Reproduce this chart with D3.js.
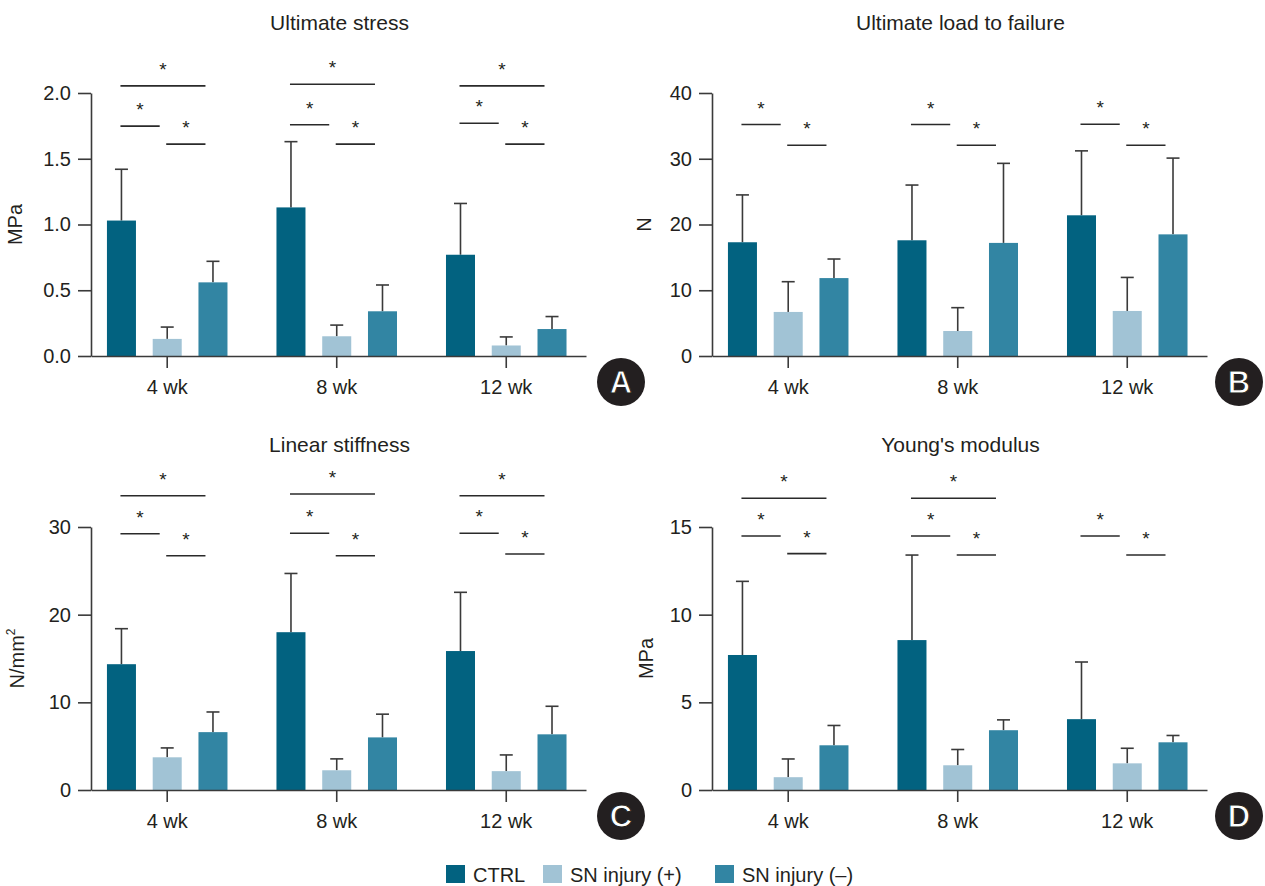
<!DOCTYPE html>
<html>
<head>
<meta charset="utf-8">
<script src="https://cdn.jsdelivr.net/npm/d3@7"></script>
<style>
  body { margin: 0; background: #fff; }
  svg text { font-family: "Liberation Sans", Arial, sans-serif; fill: #231f20; }
</style>
</head>
<body>
<div id="chart"></div>
<script>
// groups on the x axis and the three series
const groups = ["4 wk", "8 wk", "12 wk"];
const series = ["CTRL", "SN injury (+)", "SN injury (–)"];
const colors = ["#026280", "#a1c3d5", "#3285a3"];

// Ultimate stress (MPa) - mean and SD, rows = groups, cols = series
const stressMean = [[1.03, 0.13, 0.56], [1.13, 0.15, 0.34], [0.77, 0.08, 0.205]];
const stressSD   = [[0.39, 0.09, 0.16], [0.50, 0.085, 0.20], [0.39, 0.065, 0.095]];
const stressTicks = [0, 0.5, 1.0, 1.5, 2.0];
// brackets: [group, from series, to series, height]
const stressSig = [[0,0,2,2.054],[0,0,1,1.748],[0,1,2,1.611],
                   [1,0,2,2.067],[1,0,1,1.758],[1,1,2,1.611],
                   [2,0,2,2.054],[2,0,1,1.77],[2,1,2,1.611]];

// Ultimate load to failure (N)
const loadMean = [[17.3, 6.7, 11.85], [17.6, 3.8, 17.2], [21.4, 6.85, 18.5]];
const loadSD   = [[7.2, 4.6, 2.9], [8.4, 3.55, 12.1], [9.8, 5.1, 11.6]];
const loadTicks = [0, 10, 20, 30, 40];
const loadSig = [[0,0,1,35.2],[0,1,2,32.05],[1,0,1,35.2],[1,1,2,32.05],[2,0,1,35.24],[2,1,2,32.05]];

// Linear stiffness (N/mm2)
const stiffMean = [[14.35, 3.73, 6.6], [18.0, 2.25, 6.0], [15.85, 2.15, 6.35]];
const stiffSD   = [[4.05, 1.07, 2.3], [6.7, 1.3, 2.65], [6.7, 1.85, 3.2]];
const stiffTicks = [0, 10, 20, 30];
const stiffSig = [[0,0,2,33.57],[0,0,1,29.23],[0,1,2,26.72],
                  [1,0,2,33.77],[1,0,1,29.28],[1,1,2,26.72],
                  [2,0,2,33.57],[2,0,1,29.28],[2,1,2,26.92]];

// Young's modulus (MPa)
const youngMean = [[7.7, 0.73, 2.55], [8.55, 1.41, 3.41], [4.04, 1.52, 2.72]];
const youngSD   = [[4.2, 1.04, 1.13], [4.85, 0.9, 0.59], [3.26, 0.86, 0.39]];
const youngTicks = [0, 5, 10, 15];
const youngSig = [[0,0,2,16.64],[0,0,1,14.49],[0,1,2,13.48],
                  [1,0,2,16.64],[1,0,1,14.49],[1,1,2,13.40],
                  [2,0,1,14.49],[2,1,2,13.40]];

const svg = d3.select("#chart").append("svg")
    .attr("width", 1265)
    .attr("height", 886);

const plotW = 495, plotH = 263;
const ink = "#3a3a3a";

function drawPanel(p) {
  const g = svg.append("g").attr("transform", "translate(" + p.left + "," + p.top + ")");

  const x0 = d3.scaleBand().domain(groups).range([0, plotW])
      .paddingInner(0.289).paddingOuter(0.1045).align(0.45);
  const x1 = d3.scaleBand().domain([0, 1, 2]).range([0, x0.bandwidth()])
      .paddingInner(0.366).paddingOuter(0);
  const y = d3.scaleLinear().domain([0, p.max]).range([plotH, 0]);

  // title
  g.append("text")
    .attr("x", plotW / 2 + 1)
    .attr("y", p.titleY - p.top)
    .attr("text-anchor", "middle")
    .style("font-size", "21px")
    .text(p.title);

  // bars
  p.mean.forEach((row, gi) => {
    row.forEach((v, si) => {
      const bx = x0(groups[gi]) + x1(si);
      const cx = bx + x1.bandwidth() / 2;
      const top = v + p.sd[gi][si];
      g.append("line")
        .attr("x1", cx).attr("x2", cx)
        .attr("y1", y(v)).attr("y2", y(top))
        .attr("stroke", ink).attr("stroke-width", 1.6);
      g.append("line")
        .attr("x1", cx - 6.5).attr("x2", cx + 6.5)
        .attr("y1", y(top)).attr("y2", y(top))
        .attr("stroke", ink).attr("stroke-width", 1.6);
      g.append("rect")
        .attr("x", bx)
        .attr("y", y(v))
        .attr("width", x1.bandwidth())
        .attr("height", plotH - y(v))
        .attr("fill", colors[si]);
    });
  });

  // axes
  const yAxis = g.append("g")
    .call(d3.axisLeft(y).tickValues(p.ticks).tickSize(13).tickSizeOuter(0).tickPadding(7)
      .tickFormat(p.fmt));
  const xAxis = g.append("g")
    .attr("transform", "translate(0," + plotH + ")")
    .call(d3.axisBottom(x0).tickSize(12).tickSizeOuter(0).tickPadding(12));
  [yAxis, xAxis].forEach(a => {
    a.select(".domain").attr("stroke", ink).attr("stroke-width", 1.6);
    a.selectAll(".tick line").attr("stroke", ink).attr("stroke-width", 1.6);
    a.selectAll(".tick text").style("font-size", "20px").attr("fill", "#231f20")
      .style("font-family", "'Liberation Sans', Arial, sans-serif");
  });

  // y label
  const lab = g.append("text")
    .attr("transform", "translate(" + p.labelX + "," + plotH / 2 + ") rotate(-90)")
    .attr("text-anchor", "middle")
    .style("font-size", "20px");
  lab.append("tspan").text(p.label);
  if (p.sup) {
    lab.append("tspan").attr("dy", -9).style("font-size", "12px").text(p.sup);
  }

  // significance brackets
  p.sig.forEach(s => {
    const gx = x0(groups[s[0]]);
    const xa = gx + x1(s[1]) + x1.bandwidth() / 2 - 1;
    const xb = gx + x1(s[2]) + 7;
    const yy = y(s[3]);
    g.append("line")
      .attr("x1", xa).attr("x2", xb)
      .attr("y1", yy).attr("y2", yy)
      .attr("stroke", "#2a2a2a").attr("stroke-width", 1.6);
    g.append("text")
      .attr("x", (xa + xb) / 2)
      .attr("y", yy - 10)
      .attr("text-anchor", "middle")
      .style("font-size", "19px")
      .text("*");
  });

  // panel letter
  const badge = g.append("g").attr("transform", "translate(" + (p.badgeX - p.left) + "," + (p.badgeY - p.top) + ")");
  badge.append("circle").attr("r", 24).attr("fill", "#231f20");
  badge.append("text")
    .attr("text-anchor", "middle")
    .attr("y", 11)
    .style("font-size", "31px")
    .style("font-weight", "bold")
    .style("fill", "#fff")
    .attr("stroke", "#231f20").attr("stroke-width", 1)
    .text(p.letter);
}

const f1 = d3.format(".1f");
const f0 = d3.format("d");

drawPanel({ left: 91, top: 93, title: "Ultimate stress", titleY: 30, max: 2, ticks: stressTicks, fmt: f1,
  mean: stressMean, sd: stressSD, sig: stressSig, label: "MPa", labelX: -69,
  letter: "A", badgeX: 621, badgeY: 382 });
drawPanel({ left: 712, top: 93, title: "Ultimate load to failure", titleY: 30, max: 40, ticks: loadTicks, fmt: f0,
  mean: loadMean, sd: loadSD, sig: loadSig, label: "N", labelX: -61,
  letter: "B", badgeX: 1239, badgeY: 382 });
drawPanel({ left: 91, top: 527, title: "Linear stiffness", titleY: 452, max: 30, ticks: stiffTicks, fmt: f0,
  mean: stiffMean, sd: stiffSD, sig: stiffSig, label: "N/mm", sup: "2", labelX: -67,
  letter: "C", badgeX: 621, badgeY: 816 });
drawPanel({ left: 712, top: 527, title: "Young's modulus", titleY: 452, max: 15, ticks: youngTicks, fmt: f0,
  mean: youngMean, sd: youngSD, sig: youngSig, label: "MPa", labelX: -59,
  letter: "D", badgeX: 1239, badgeY: 816 });

// legend
const legX = [446, 543, 715];
const leg = svg.append("g");
series.forEach((s, i) => {
  leg.append("rect")
    .attr("x", legX[i]).attr("y", 865)
    .attr("width", 19).attr("height", 18)
    .attr("fill", colors[i]);
  leg.append("text")
    .attr("x", legX[i] + 27).attr("y", 882)
    .style("font-size", "20px")
    .text(s);
});
</script>
</body>
</html>
